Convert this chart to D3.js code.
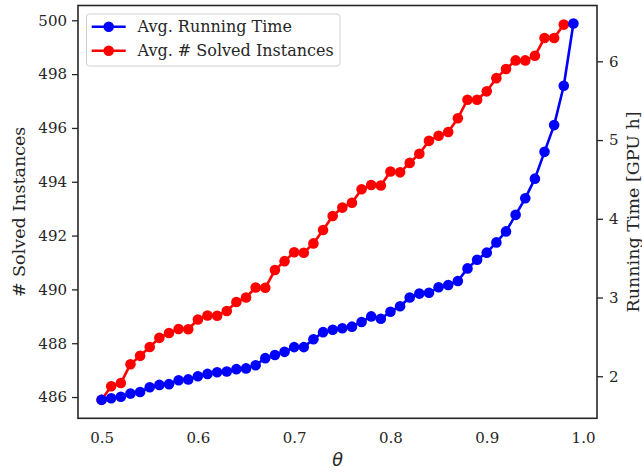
<!DOCTYPE html>
<html>
<head>
<meta charset="utf-8">
<script src="https://cdn.jsdelivr.net/npm/d3@7"></script>
<style>
  html, body { margin: 0; padding: 0; background: #fff; }
  svg { display: block; }
</style>
</head>
<body>
<svg id="chart" width="642" height="472"></svg>
<script>
const theta = [0.50,0.51,0.52,0.53,0.54,0.55,0.56,0.57,0.58,0.59,
               0.60,0.61,0.62,0.63,0.64,0.65,0.66,0.67,0.68,0.69,
               0.70,0.71,0.72,0.73,0.74,0.75,0.76,0.77,0.78,0.79,
               0.80,0.81,0.82,0.83,0.84,0.85,0.86,0.87,0.88,0.89,
               0.90,0.91,0.92,0.93,0.94,0.95,0.96,0.97,0.98,0.99];

const solvedInstances = [485.9,486.40,486.52,487.22,487.53,487.86,488.20,488.38,488.53,488.52,
                         488.88,489.03,489.02,489.20,489.53,489.70,490.07,490.06,490.72,491.05,
                         491.38,491.36,491.71,492.21,492.73,493.04,493.22,493.72,493.88,493.86,
                         494.38,494.35,494.70,495.04,495.52,495.71,495.85,496.36,497.05,497.05,
                         497.36,497.85,498.19,498.51,498.51,498.68,499.34,499.34,499.84];

const runningTime = [1.70,1.72,1.74,1.78,1.80,1.86,1.89,1.90,1.95,1.96,
                     2.00,2.03,2.05,2.06,2.09,2.10,2.14,2.23,2.27,2.31,
                     2.37,2.37,2.47,2.56,2.59,2.61,2.63,2.69,2.76,2.73,
                     2.82,2.89,3.00,3.05,3.06,3.13,3.16,3.21,3.37,3.48,
                     3.57,3.70,3.84,4.05,4.26,4.51,4.85,5.19,5.69,6.48];

const xTicks = [0.5,0.6,0.7,0.8,0.9,1.0];
const xTickLabels = ["0.5","0.6","0.7","0.8","0.9","1.0"];
const leftTicks = [486,488,490,492,494,496,498,500];
const rightTicks = [2,3,4,5,6];

const seriesNames = ["Avg. Running Time", "Avg. # Solved Instances"];
const seriesColors = ["#0000ff", "#ff0000"];

const textColor = "#262626";
const font = "'DejaVu Serif', serif";

const plot = { left: 78, right: 597, top: 5.5, bottom: 418.3 };

const svg = d3.select("#chart");

const x = d3.scaleLinear().domain([0.4755, 1.0145]).range([plot.left, plot.right]);
const yL = d3.scaleLinear().domain([485.21, 500.55]).range([plot.bottom, plot.top]);
const yR = d3.scaleLinear().domain([1.466, 6.709]).range([plot.bottom, plot.top]);

// Red series (left axis)
const redData = solvedInstances.map((v, i) => ({ x: theta[i], y: v }));
const blueData = runningTime.map((v, i) => ({ x: theta[i], y: v }));

const gData = svg.append("g");
gData.append("path")
  .datum(redData)
  .attr("fill", "none")
  .attr("stroke", seriesColors[1])
  .attr("stroke-width", 2.6)
  .attr("stroke-linejoin", "round")
  .attr("d", d3.line().x(d => x(d.x)).y(d => yL(d.y)));
gData.selectAll("circle.red").data(redData).enter().append("circle")
  .attr("class", "red")
  .attr("cx", d => x(d.x)).attr("cy", d => yL(d.y))
  .attr("r", 5.3).attr("fill", seriesColors[1]);

gData.append("path")
  .datum(blueData)
  .attr("fill", "none")
  .attr("stroke", seriesColors[0])
  .attr("stroke-width", 2.6)
  .attr("stroke-linejoin", "round")
  .attr("d", d3.line().x(d => x(d.x)).y(d => yR(d.y)));
gData.selectAll("circle.blue").data(blueData).enter().append("circle")
  .attr("class", "blue")
  .attr("cx", d => x(d.x)).attr("cy", d => yR(d.y))
  .attr("r", 5.3).attr("fill", seriesColors[0]);

// Axes
function styleAxis(g) {
  g.selectAll("text").attr("font-family", font).attr("font-size", "15px").attr("fill", textColor);
  g.selectAll("line").attr("stroke", textColor).attr("stroke-width", 1.3);
  g.select(".domain").remove();
}

const xAxis = d3.axisBottom(x).tickValues(xTicks)
  .tickFormat((d, i) => xTickLabels[i]).tickSize(0).tickPadding(14);
svg.append("g").attr("transform", `translate(0,${plot.bottom})`).call(xAxis).call(styleAxis);

const lAxis = d3.axisLeft(yL).tickValues(leftTicks).tickFormat(d3.format("d"))
  .tickSize(6).tickPadding(5);
svg.append("g").attr("transform", `translate(${plot.left},0)`).call(lAxis).call(styleAxis);

const rAxis = d3.axisRight(yR).tickValues(rightTicks).tickFormat(d3.format("d"))
  .tickSize(6).tickPadding(6);
svg.append("g").attr("transform", `translate(${plot.right},0)`).call(rAxis).call(styleAxis);

// Frame
svg.append("rect")
  .attr("x", plot.left).attr("y", plot.top)
  .attr("width", plot.right - plot.left).attr("height", plot.bottom - plot.top)
  .attr("fill", "none").attr("stroke", textColor).attr("stroke-width", 1.6);

// Axis labels
svg.append("text")
  .attr("transform", `translate(19,${(plot.top + plot.bottom) / 2}) rotate(-90)`)
  .attr("text-anchor", "middle").attr("dominant-baseline", "central")
  .attr("font-family", font).attr("font-size", "17.5px").attr("fill", textColor)
  .text("# Solved Instances");

svg.append("text")
  .attr("transform", `translate(633,${(plot.top + plot.bottom) / 2}) rotate(-90)`)
  .attr("text-anchor", "middle").attr("dominant-baseline", "central")
  .attr("font-family", font).attr("font-size", "17.5px").attr("fill", textColor)
  .text("Running Time [GPU h]");

svg.append("text")
  .attr("x", (plot.left + plot.right) / 2).attr("y", 466)
  .attr("text-anchor", "middle")
  .attr("font-family", "'DejaVu Sans', sans-serif").attr("font-style", "italic")
  .attr("font-size", "17.5px").attr("fill", textColor)
  .text("θ");

// Legend
const leg = svg.append("g");
leg.append("rect")
  .attr("x", 86.5).attr("y", 14).attr("width", 253.5).attr("height", 52)
  .attr("rx", 3).attr("ry", 3)
  .attr("fill", "#ffffff").attr("fill-opacity", 0.8)
  .attr("stroke", "#d0d0d0").attr("stroke-width", 1);
seriesNames.forEach((name, i) => {
  const yy = 26.7 + i * 24;
  leg.append("line").attr("x1", 91.7).attr("x2", 125.7).attr("y1", yy).attr("y2", yy)
    .attr("stroke", seriesColors[i]).attr("stroke-width", 2.6);
  leg.append("circle").attr("cx", 108.7).attr("cy", yy).attr("r", 5.3).attr("fill", seriesColors[i]);
  leg.append("text").attr("x", 137.5).attr("y", yy).attr("dominant-baseline", "central")
    .attr("font-family", font).attr("font-size", "16px").attr("fill", textColor)
    .text(name);
});
</script>
</body>
</html>
